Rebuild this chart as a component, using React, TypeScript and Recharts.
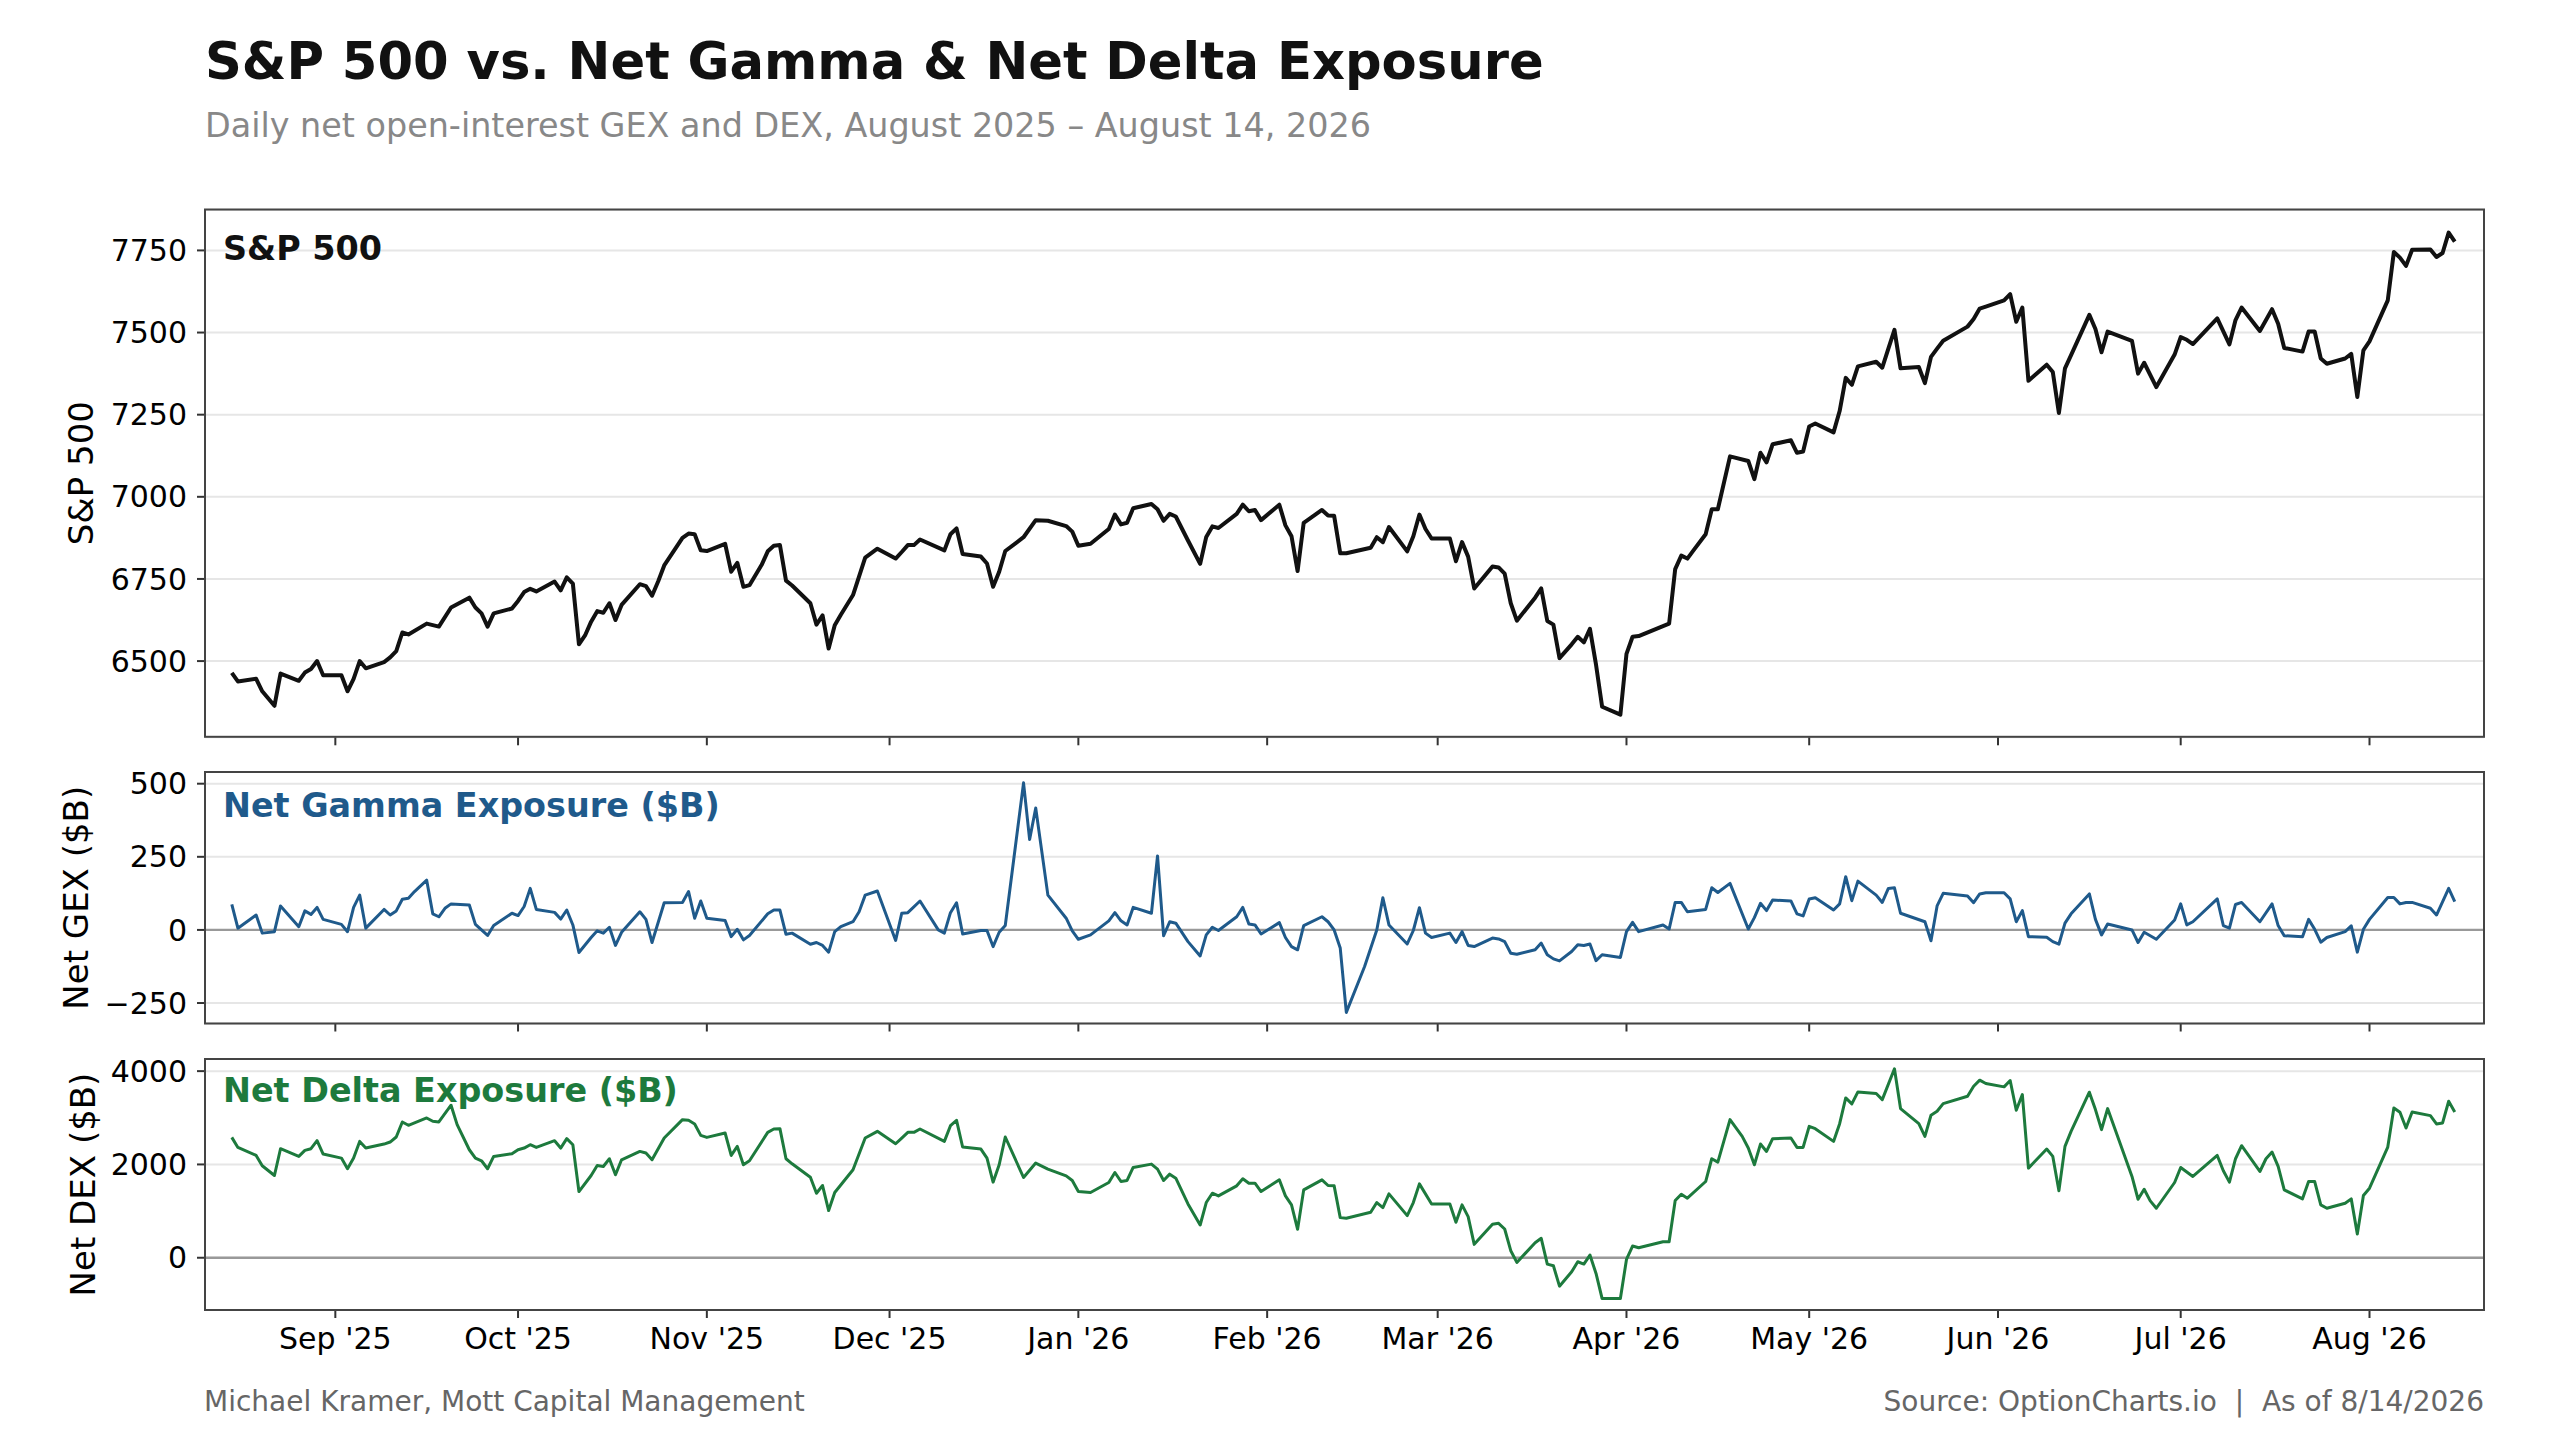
import React from "react";
import { LineChart, Line, XAxis, YAxis, CartesianGrid, ReferenceLine } from "recharts";

// x values are calendar days counted from Aug 15, 2025
const START = Date.parse("2025-08-15");
const dayOf = (iso: string) => Math.round((Date.parse(iso) - START) / 86400000);

const monthStarts = [
  "2025-09-01", "2025-10-01", "2025-11-01", "2025-12-01", "2026-01-01", "2026-02-01",
  "2026-03-01", "2026-04-01", "2026-05-01", "2026-06-01", "2026-07-01", "2026-08-01",
];
const monthLabels = [
  "Sep '25", "Oct '25", "Nov '25", "Dec '25", "Jan '26", "Feb '26",
  "Mar '26", "Apr '26", "May '26", "Jun '26", "Jul '26", "Aug '26",
];
const monthTicks = monthStarts.map(dayOf);

const spxDays = [
  0, 1, 4, 5, 7, 8, 11, 12, 13, 14,
  15, 18, 19, 20, 21, 22, 25, 26, 27, 28,
  29, 32, 34, 36, 39, 40, 41, 42, 43, 46,
  47, 48, 49, 50, 53, 54, 55, 56, 57, 58,
  59, 60, 61, 62, 63, 64, 67, 68, 69, 70,
  71, 74, 75, 76, 77, 78, 81, 82, 83, 84,
  85, 87, 88, 89, 90, 91, 92, 95, 96, 97,
  98, 99, 100, 102, 104, 106, 109, 110, 111, 112,
  113, 117, 118, 119, 120, 123, 124, 125, 126, 127,
  130, 132, 134, 137, 138, 139, 141, 144, 145, 146,
  147, 148, 151, 152, 153, 154, 155, 157, 159, 160,
  161, 162, 165, 166, 167, 168, 169, 172, 173, 174,
  175, 176, 179, 180, 181, 182, 183, 187, 188, 189,
  190, 193, 194, 195, 196, 197, 200, 201, 202, 203,
  204, 207, 208, 209, 210, 211, 214, 215, 216, 217,
  218, 220, 221, 222, 223, 224, 225, 228, 229, 230,
  231, 236, 237, 238, 239, 240, 242, 243, 244, 246,
  249, 250, 251, 252, 253, 256, 257, 258, 259, 260,
  263, 264, 265, 266, 267, 270, 271, 272, 273, 274,
  277, 278, 279, 280, 281, 285, 286, 287, 288, 291,
  292, 293, 294, 295, 298, 299, 300, 301, 302, 305,
  306, 307, 308, 312, 313, 314, 316, 319, 320, 321,
  322, 326, 328, 329, 330, 333, 335, 336, 337, 340,
  341, 342, 343, 344, 347, 348, 349, 350, 351, 354,
  355, 356, 357, 358, 361, 362, 363, 364, 365,
];
const spxValues = [
  6464, 6438, 6446, 6408, 6364, 6462, 6440, 6465, 6476, 6500,
  6457, 6457, 6408, 6446, 6500, 6478, 6497, 6511, 6530, 6587,
  6581, 6614, 6605, 6663, 6693, 6663, 6645, 6605, 6645, 6660,
  6683, 6710, 6720, 6712, 6742, 6715, 6755, 6736, 6551, 6578,
  6620, 6652, 6647, 6676, 6625, 6671, 6734, 6728, 6699, 6742,
  6791, 6875, 6888, 6886, 6837, 6835, 6857, 6772, 6799, 6726,
  6731, 6793, 6834, 6851, 6853, 6745, 6730, 6676, 6611, 6639,
  6538, 6609, 6641, 6701, 6815, 6842, 6812, 6832, 6853, 6853,
  6870, 6837, 6886, 6904, 6826, 6818, 6797, 6726, 6772, 6835,
  6877, 6929, 6927, 6911, 6894, 6851, 6857, 6902, 6946, 6916,
  6921, 6965, 6978, 6962, 6927, 6948, 6940, 6867, 6796, 6878,
  6910, 6905, 6948, 6976, 6956, 6960, 6929, 6976, 6913, 6880,
  6774, 6921, 6960, 6943, 6942, 6828, 6828, 6845, 6877, 6862,
  6908, 6834, 6880, 6946, 6902, 6873, 6873, 6804, 6862, 6818,
  6721, 6788, 6785, 6766, 6676, 6623, 6693, 6721, 6622, 6611,
  6509, 6551, 6574, 6557, 6598, 6489, 6361, 6337, 6522, 6574,
  6576, 6614, 6780, 6821, 6812, 6837, 6886, 6962, 6962, 7123,
  7109, 7054, 7134, 7105, 7160, 7172, 7134, 7138, 7214, 7223,
  7196, 7261, 7362, 7341, 7397, 7411, 7393, 7451, 7508, 7391,
  7395, 7346, 7426, 7451, 7475, 7518, 7541, 7573, 7579, 7598,
  7617, 7533, 7576, 7353, 7402, 7380, 7255, 7391, 7431, 7554,
  7511, 7440, 7503, 7475, 7375, 7408, 7334, 7433, 7486, 7478,
  7465, 7543, 7464, 7538, 7576, 7505, 7571, 7527, 7453, 7442,
  7503, 7503, 7421, 7405, 7421, 7435, 7304, 7446, 7473, 7598,
  7745, 7728, 7703, 7752, 7753, 7730, 7742, 7804, 7777,
];

const gexDays = [
  0, 1, 4, 5, 7, 8, 11, 12, 13, 14,
  15, 18, 19, 20, 21, 22, 25, 26, 27, 28,
  29, 30, 32, 33, 34, 35, 36, 39, 40, 42,
  43, 46, 47, 48, 49, 50, 53, 54, 55, 56,
  57, 59, 60, 61, 62, 63, 64, 67, 68, 69,
  71, 74, 75, 76, 77, 78, 81, 82, 83, 84,
  85, 88, 89, 90, 91, 92, 95, 96, 97, 98,
  99, 100, 102, 103, 104, 106, 109, 110, 111, 113,
  116, 117, 118, 119, 120, 123, 124, 125, 126, 127,
  130, 131, 132, 134, 137, 138, 139, 141, 144, 145,
  146, 147, 148, 151, 152, 153, 154, 155, 157, 159,
  160, 161, 162, 165, 166, 167, 168, 169, 172, 173,
  174, 175, 176, 179, 180, 181, 182, 183, 186, 188,
  189, 190, 193, 194, 195, 196, 197, 200, 201, 202,
  203, 204, 207, 208, 209, 210, 211, 214, 215, 216,
  217, 218, 220, 221, 222, 223, 224, 225, 228, 229,
  230, 231, 235, 236, 237, 238, 239, 242, 243, 244,
  246, 249, 250, 251, 252, 253, 256, 257, 258, 259,
  260, 263, 264, 265, 266, 267, 270, 271, 272, 273,
  274, 278, 279, 280, 281, 285, 286, 287, 288, 291,
  292, 293, 294, 295, 298, 299, 300, 301, 302, 305,
  306, 307, 308, 312, 313, 314, 316, 319, 320, 321,
  322, 326, 327, 328, 329, 330, 333, 335, 336, 337,
  340, 341, 342, 343, 344, 347, 348, 349, 350, 351,
  354, 355, 356, 357, 358, 361, 362, 364, 365,
];
const gexValues = [
  87, 6, 51, -11, -6, 82, 11, 65, 53, 77,
  36, 19, -6, 77, 119, 6, 70, 51, 65, 105,
  108, 131, 170, 55, 45, 74, 89, 85, 19, -19,
  15, 57, 49, 80, 142, 70, 60, 37, 68, 17,
  -77, -26, -3, -11, 9, -53, -8, 62, 36, -43,
  93, 94, 131, 40, 99, 40, 32, -23, 2, -34,
  -19, 55, 68, 68, -15, -11, -49, -43, -53, -76,
  -6, 11, 28, 62, 119, 133, -36, 57, 59, 99,
  0, -11, 59, 93, -14, -2, -2, -57, -8, 15,
  503, 309, 417, 119, 40, -3, -32, -17, 31, 59,
  31, 17, 77, 57, 253, -20, 28, 23, -40, -89,
  -17, 9, -2, 45, 77, 20, 17, -14, 25, -26,
  -57, -68, 15, 45, 28, 0, -62, -282, -125, 0,
  110, 17, -48, -2, 76, -11, -26, -11, -43, -6,
  -53, -57, -28, -31, -40, -80, -83, -68, -45, -85,
  -99, -106, -74, -51, -53, -48, -105, -85, -94, -6,
  26, -6, 17, 3, 94, 94, 62, 70, 144, 128,
  159, 3, 42, 91, 66, 102, 99, 55, 48, 106,
  110, 68, 89, 182, 100, 167, 119, 94, 142, 144,
  57, 28, -37, 82, 125, 116, 93, 123, 127, 127,
  106, 28, 66, -23, -25, -40, -49, 23, 55, 123,
  36, -17, 20, 0, -43, -8, -32, 34, 89, 17,
  28, 106, 15, 6, 87, 94, 28, 89, 15, -20,
  -23, 36, 2, -42, -26, -6, 14, -76, 2, 36,
  111, 111, 89, 94, 94, 74, 51, 142, 97,
];

const dexDays = [
  0, 1, 4, 5, 7, 8, 11, 12, 13, 14,
  15, 18, 19, 20, 21, 22, 25, 26, 27, 28,
  29, 32, 33, 34, 36, 37, 39, 40, 41, 42,
  43, 46, 47, 48, 49, 50, 53, 54, 55, 56,
  57, 59, 60, 61, 62, 63, 64, 67, 68, 69,
  71, 74, 75, 76, 77, 78, 81, 82, 83, 84,
  85, 88, 89, 90, 91, 92, 95, 96, 97, 98,
  99, 102, 104, 106, 109, 110, 111, 112, 113, 117,
  118, 119, 120, 123, 124, 125, 126, 127, 130, 132,
  134, 137, 138, 139, 141, 144, 145, 146, 147, 148,
  151, 152, 153, 154, 155, 157, 159, 160, 161, 162,
  165, 166, 167, 168, 169, 172, 173, 174, 175, 176,
  179, 180, 181, 182, 183, 187, 188, 189, 190, 193,
  194, 195, 197, 200, 201, 202, 203, 204, 207, 208,
  209, 210, 211, 214, 215, 216, 217, 218, 220, 221,
  222, 223, 224, 225, 228, 229, 230, 231, 235, 236,
  237, 238, 239, 242, 243, 244, 246, 248, 249, 250,
  251, 252, 253, 256, 257, 258, 259, 260, 263, 264,
  265, 266, 267, 270, 271, 273, 274, 277, 278, 279,
  280, 281, 285, 286, 287, 288, 291, 292, 293, 294,
  295, 298, 299, 300, 301, 302, 305, 306, 307, 308,
  312, 313, 314, 315, 316, 319, 320, 322, 326, 327,
  328, 329, 330, 333, 334, 335, 336, 337, 340, 341,
  342, 343, 344, 347, 348, 349, 350, 351, 354, 355,
  356, 357, 358, 361, 362, 363, 364, 365,
];
const dexValues = [
  2580, 2365, 2193, 1971, 1763, 2337, 2172, 2301, 2337, 2509,
  2222, 2136, 1907, 2136, 2494, 2351, 2437, 2480, 2588, 2910,
  2839, 2996, 2925, 2910, 3269, 2853, 2315, 2136, 2079, 1907,
  2172, 2229, 2315, 2351, 2423, 2365, 2509, 2351, 2552, 2423,
  1419, 1763, 1978, 1957, 2122, 1778, 2100, 2279, 2244, 2100,
  2566, 2960, 2946, 2867, 2623, 2580, 2674, 2193, 2387, 1993,
  2079, 2688, 2760, 2767, 2122, 2014, 1727, 1383, 1548, 1011,
  1398, 1885, 2566, 2710, 2444, 2566, 2688, 2688, 2760, 2494,
  2831, 2946, 2373, 2330, 2136, 1620, 1993, 2588, 1720, 2029,
  1900, 1756, 1656, 1419, 1398, 1613, 1828, 1634, 1656, 1935,
  2007, 1900, 1656, 1792, 1706, 1154, 702, 1183, 1383, 1326,
  1541, 1692, 1598, 1598, 1419, 1670, 1326, 1133, 609, 1455,
  1670, 1548, 1541, 860, 846, 975, 1183, 1075, 1369, 903,
  1183, 1584, 1154, 1154, 760, 1133, 882, 287, 717, 738,
  616, 151, -100, 323, 416, -136, -172, -609, -301, -86,
  -136, 57, -337, -875, -875, -36, 251, 215, 344, 344,
  1226, 1362, 1276, 1634, 2122, 2050, 2960, 2602, 2351, 1993,
  2437, 2279, 2552, 2566, 2365, 2365, 2817, 2767, 2494, 2874,
  3426, 3297, 3555, 3520, 3390, 4050, 3197, 2874, 2602, 3054,
  3140, 3304, 3462, 3677, 3806, 3735, 3663, 3799, 3161, 3498,
  1921, 2330, 2172, 1434, 2387, 2710, 3548, 3175, 2745, 3197,
  1742, 1254, 1469, 1219, 1061, 1613, 1935, 1742, 2193, 1864,
  1620, 2122, 2401, 1849, 2122, 2265, 1957, 1455, 1262, 1634,
  1634, 1133, 1061, 1168, 1262, 509, 1333, 1491, 2373, 3211,
  3118, 2781, 3125, 3046, 2867, 2889, 3355, 3125,
];

const spxTicks = [6500, 6750, 7000, 7250, 7500, 7750];
const gexTicks = [-250, 0, 250, 500];
const dexTicks = [0, 2000, 4000];

const toRows = (days: number[], vals: number[]) => days.map((d, i) => ({ d, v: vals[i] }));
const spxData = toRows(spxDays, spxValues);
const gexData = toRows(gexDays, gexValues);
const dexData = toRows(dexDays, dexValues);

const FONT = "'DejaVu Sans', Verdana, sans-serif";
const PLOT_LEFT = 205;
const PLOT_RIGHT = 2484;
const PLOT_W = PLOT_RIGHT - PLOT_LEFT;
const X_DOMAIN: [number, number] = [-4.4, 369.8];

const SPX_BOX = { top: 209.5, height: 527.3 };
const GEX_BOX = { top: 772, height: 251.5 };
const DEX_BOX = { top: 1059, height: 251 };

const fmtNum = (v: number) => (v < 0 ? "\u2212" + Math.abs(v) : String(v));
const monthLabel = (v: number) => {
  const i = monthTicks.indexOf(v);
  return i >= 0 ? monthLabels[i] : "";
};

const tickStyle = { fill: "#000", fontSize: 30, fontFamily: FONT };
const tickLineStyle = { stroke: "#333", strokeWidth: 2 };

function Panel({ box, data, domain, ticks, color, lineWidth, showDates, zero }: any) {
  const axisH = showDates ? 70 : 20;
  return (
    <div style={{ position: "absolute", left: 0, top: box.top }}>
      <LineChart
        width={PLOT_RIGHT + 20}
        height={box.height + axisH}
        data={data}
        margin={{ top: 0, right: 20, bottom: 0, left: 0 }}
      >
        <CartesianGrid vertical={false} stroke="#e6e6e6" strokeWidth={2} />
        <XAxis
          type="number"
          dataKey="d"
          domain={X_DOMAIN}
          allowDataOverflow
          ticks={monthTicks}
          interval={0}
          height={axisH}
          axisLine={false}
          tickLine={tickLineStyle}
          tickSize={8}
          tickMargin={10}
          tick={tickStyle}
          tickFormatter={(v: number) => (showDates ? monthLabel(v) : "")}
        />
        <YAxis
          type="number"
          domain={domain}
          allowDataOverflow
          ticks={ticks}
          interval={0}
          width={PLOT_LEFT}
          axisLine={false}
          tickLine={tickLineStyle}
          tickSize={8}
          tickMargin={10}
          tick={tickStyle}
          tickFormatter={fmtNum}
        />
        {zero && <ReferenceLine y={0} stroke="#999" strokeWidth={2.4} />}
        <Line
          type="linear"
          dataKey="v"
          stroke={color}
          strokeWidth={lineWidth}
          strokeLinejoin="round"
          dot={false}
          activeDot={false}
          isAnimationActive={false}
        />
      </LineChart>
    </div>
  );
}

const GEX_COLOR = "#1f5a8b";
const DEX_COLOR = "#1d7a3d";

export default function App() {
  const frames = [SPX_BOX, GEX_BOX, DEX_BOX];
  return (
    <div style={{ position: "absolute", left: 0, top: 0, width: 2560, height: 1440, background: "#fff", overflow: "hidden" }}>
      <Panel box={SPX_BOX} data={spxData} domain={[6268, 7873]} ticks={spxTicks} color="#111" lineWidth={4} />
      <Panel box={GEX_BOX} data={gexData} domain={[-320, 540]} ticks={gexTicks} color={GEX_COLOR} lineWidth={3} zero />
      <Panel box={DEX_BOX} data={dexData} domain={[-1120, 4260]} ticks={dexTicks} color={DEX_COLOR} lineWidth={3} zero showDates />

      <svg width={2560} height={1440} style={{ position: "absolute", left: 0, top: 0, pointerEvents: "none" }} fontFamily={FONT}>
        {frames.map((b, i) => (
          <rect key={i} x={PLOT_LEFT} y={b.top} width={PLOT_W} height={b.height} fill="none" stroke="#444" strokeWidth={2} />
        ))}

        <text x={205} y={79} fontSize={51.2} fontWeight="bold" fill="#111">
          {"S&P 500 vs. Net Gamma & Net Delta Exposure"}
        </text>
        <text x={205} y={137} fontSize={33.4} fill="#888">
          {"Daily net open-interest GEX and DEX, August 2025 \u2013 August 14, 2026"}
        </text>

        <text x={223} y={260} fontSize={33.4} fontWeight="bold" fill="#111">{"S&P 500"}</text>
        <text x={223} y={817} fontSize={33.4} fontWeight="bold" fill={GEX_COLOR}>Net Gamma Exposure ($B)</text>
        <text x={223} y={1102} fontSize={33.4} fontWeight="bold" fill={DEX_COLOR}>Net Delta Exposure ($B)</text>

        <text transform={`translate(93 ${SPX_BOX.top + SPX_BOX.height / 2}) rotate(-90)`} textAnchor="middle" fontSize={34} fill="#000">
          {"S&P 500"}
        </text>
        <text transform={`translate(88.4 ${GEX_BOX.top + GEX_BOX.height / 2}) rotate(-90)`} textAnchor="middle" fontSize={34} fill="#000">
          Net GEX ($B)
        </text>
        <text transform={`translate(94.6 ${DEX_BOX.top + DEX_BOX.height / 2}) rotate(-90)`} textAnchor="middle" fontSize={34} fill="#000">
          Net DEX ($B)
        </text>

        <text x={204} y={1411} fontSize={28} fill="#666">Michael Kramer, Mott Capital Management</text>
        <text x={PLOT_RIGHT} y={1411} fontSize={28} fill="#666" textAnchor="end" style={{ whiteSpace: "pre" }}>
          {"Source: OptionCharts.io  |  As of 8/14/2026"}
        </text>
      </svg>
    </div>
  );
}
